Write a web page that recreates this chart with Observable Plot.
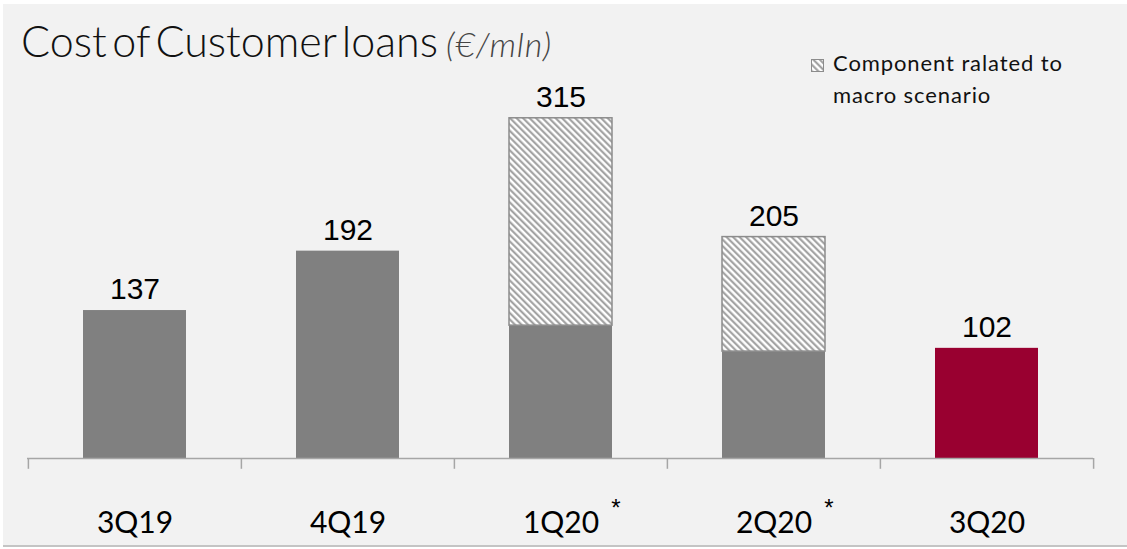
<!DOCTYPE html>
<html>
<head>
<meta charset="utf-8">
<script src="https://cdn.jsdelivr.net/npm/d3@7"></script>
<script src="https://cdn.jsdelivr.net/npm/@observablehq/plot@0.6"></script>
<style>
  html, body { margin: 0; padding: 0; background: #ffffff; }
  #wrap { position: relative; width: 1127px; height: 549px; overflow: hidden; background: #ffffff; }
  #panel { position: absolute; left: 3px; top: 4px; width: 1124px; height: 541px; background: #f2f2f2; border-bottom: 2px solid #c4c4c4; }
  #title { position: absolute; left: 21px; top: 15px; font-family: Lato, sans-serif; font-weight: 300; font-size: 43px; color: #111; letter-spacing: 0px; word-spacing: -6px; white-space: nowrap; }
  #title i { font-size: 34px; color: #444; letter-spacing: 0.8px; word-spacing: 0; font-weight: 300; margin-left: 8px; }
  #legend { position: absolute; left: 811px; top: 47px; font-family: Lato, sans-serif; font-size: 22px; color: #111; line-height: 32px; letter-spacing: 0.9px; }
  #legend .l2 { padding-left: 22px; }
  #chart { position: absolute; left: 0; top: 0; }
</style>
</head>
<body>
<div id="wrap">
  <div id="panel"></div>
  <div id="chart"></div>
  <div id="title">Cost of Customer loans<i>(€/mln)</i></div>
  <div id="legend">
    <div><svg width="13" height="13" style="margin-right:9px;vertical-align:-1px"><rect x="0.5" y="0.5" width="12" height="12" fill="url(#hatch)" stroke="#8c8c8c"/></svg>Component ralated to</div>
    <div class="l2">macro scenario</div>
  </div>
</div>
<script>
const categories = ["3Q19", "4Q19", "1Q20", "2Q20", "3Q20"];
const baseValues = [137, 192, 123, 99, 102];
const macroValues = [0, 0, 192, 106, 0];
const totalValues = [137, 192, 315, 205, 102];
const starred = ["1Q20", "2Q20"];

const rows = categories.map((q, i) => ({
  q, base: baseValues[i], macro: macroValues[i], total: totalValues[i]
}));

const W = 1127, H = 549, mL = 27, mR = 34;
const pad = 0.517;
const step = (W - mL - mR) / categories.length; // paddingOuter = pad/2
const edges = categories.map(q => ({q, side: -1})).concat([{q: categories[categories.length - 1], side: 1}]);

const plot = Plot.plot({
  width: W,
  height: H,
  marginLeft: mL,
  marginRight: mR,
  marginTop: 26,
  marginBottom: 91,
  style: {background: "transparent", overflow: "visible"},
  x: {domain: categories, paddingInner: pad, paddingOuter: pad / 2, axis: null},
  y: {domain: [0, 400], axis: null},
  marks: [
    Plot.barY(rows, {x: "q", y1: 0, y2: "base", fill: d => d.q === "3Q20" ? "#990030" : "#808080", insetBottom: -1}),
    Plot.barY(rows.filter(d => d.macro > 0), {x: "q", y1: "base", y2: "total", fill: "url(#hatch)", stroke: "#8c8c8c", strokeWidth: 1.5}),
    Plot.ruleY([0], {stroke: "#a6a6a6", strokeWidth: 1.5}),
    Plot.ruleX(edges.filter(d => d.side < 0), {x: "q", y1: 0, y2: -10, dx: -step / 2, stroke: "#a6a6a6", strokeWidth: 1.5}),
    Plot.ruleX(edges.filter(d => d.side > 0), {x: "q", y1: 0, y2: -10, dx: step / 2, stroke: "#a6a6a6", strokeWidth: 1.5}),
    Plot.text(rows, {x: "q", y: "total", text: d => String(d.total), dy: -21, lineAnchor: "middle", fontSize: 30, fontFamily: "Liberation Sans, Arial, sans-serif", fill: "#000"}),
    Plot.text(categories, {x: d => d, y: -60, text: d => d, lineAnchor: "middle", fontSize: 30, fontFamily: "Lato, sans-serif", fill: "#000"}),
    Plot.text(starred, {x: d => d, y: -46, text: () => "*", dx: 55, lineAnchor: "middle", fontSize: 24, fontFamily: "Liberation Sans, Arial, sans-serif", fill: "#000"})
  ]
});

const svg = d3.select(plot);
const defs = svg.insert("defs", ":first-child");
const pat = defs.append("pattern")
  .attr("id", "hatch")
  .attr("patternUnits", "userSpaceOnUse")
  .attr("width", 4.6)
  .attr("height", 4.6)
  .attr("patternTransform", "rotate(-45)");
pat.append("rect").attr("width", 4.6).attr("height", 4.6).attr("fill", "#ffffff");
pat.append("line").attr("x1", 1.2).attr("y1", -1).attr("x2", 1.2).attr("y2", 6).attr("stroke", "#9a9a9a").attr("stroke-width", 2);

document.getElementById("chart").appendChild(plot);
</script>
</body>
</html>
